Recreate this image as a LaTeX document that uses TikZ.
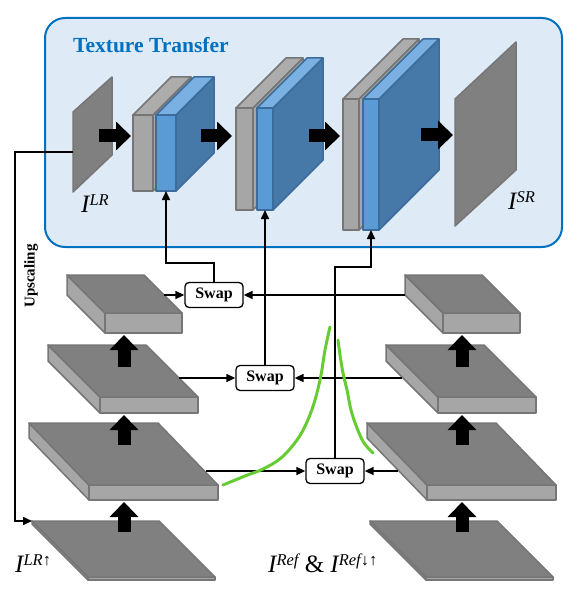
\documentclass[tikz,border=0pt]{standalone}
\usepackage{fontspec}
\setmainfont{Liberation Serif}
\usetikzlibrary{arrows.meta}

\definecolor{ttblue}{RGB}{0,112,192}
\definecolor{ttfill}{RGB}{222,234,246}
\definecolor{slabtop}{RGB}{128,128,128}
\definecolor{slabside}{RGB}{166,166,166}
\definecolor{slabedge}{RGB}{118,118,118}
\definecolor{graytop}{RGB}{172,172,172}
\definecolor{bluefront}{RGB}{91,155,213}
\definecolor{bluetop}{RGB}{122,176,226}
\definecolor{blueside}{RGB}{70,120,168}
\definecolor{blueedge}{RGB}{60,108,156}
\definecolor{scribble}{RGB}{102,204,51}

\newcommand{\imlabel}[1]{{\fontsize{25}{25}\selectfont\itshape I}\raisebox{7pt}{\fontsize{16.5}{16.5}\selectfont\itshape #1}}

\begin{document}
\begin{tikzpicture}[x=1pt,y=-1pt]
    \tikzset{conn/.style={line width=1.6pt, -{Triangle[length=9pt,width=8pt]}}};
    \tikzset{fatarrow/.style={line width=13pt, -{Triangle[length=15pt,width=28pt]}}};
    \tikzset{swapbox/.style={draw, line width=1.3pt, rounded corners=4pt, fill=white,
        minimum width=58pt, minimum height=25pt, inner sep=0pt,
        font=\fontsize{16}{16}\selectfont\bfseries}};
    \tikzset{plane/.style={fill=slabtop, draw=slabedge, line width=1.5pt, line join=round}};
    \tikzset{slab/.style={fill=slabside, draw=slabedge, line width=1.5pt, line join=round}};
    \tikzset{bluebox/.style={fill=bluefront, draw=blueedge, line width=1.5pt, line join=round}};
    \tikzset{lbl/.style={anchor=base west, inner sep=0pt}};

    \useasboundingbox (0,0) rectangle (568,604);

    % texture transfer panel
    \draw[ttblue, line width=2pt, fill=ttfill, rounded corners=20pt] (45,18) rectangle (562,247);
    \node[lbl, text=ttblue, font=\fontsize{21.5}{21.5}\selectfont\bfseries] (title) at (73,53) {Texture Transfer};

    \draw[plane] (73,112) -- (112,77) -- (112,155) -- (73,192) -- cycle;
    \draw[plane] (455,99) -- (516,42) -- (516,170) -- (455,226) -- cycle;
    \coordinate (lrin) at (73,152);

    \foreach \gx/\gw/\bx/\bw/\yt/\yb/\d/\n in {133/20/156/20/115/191/38/1,
                                               236/17/257/16/108/210/50/2,
                                               343/16/363/16/99/230/60/3}{
        \draw[slab] (\gx+\gw,\yt) -- ++(\d,-\d) -- ++(0,\yb-\yt) -- (\gx+\gw,\yb) -- cycle;
        \draw[slab, fill=graytop] (\gx,\yt) -- ++(\d,-\d) -- ++(\gw,0) -- (\gx+\gw,\yt) -- cycle;
        \draw[slab] (\gx,\yt) rectangle (\gx+\gw,\yb);
        \draw[bluebox, fill=blueside] (\bx+\bw,\yt) -- ++(\d,-\d) -- ++(0,\yb-\yt) -- (\bx+\bw,\yb) -- cycle;
        \draw[bluebox, fill=bluetop] (\bx,\yt) -- ++(\d,-\d) -- ++(\bw,0) -- (\bx+\bw,\yt) -- cycle;
        \draw[bluebox] (\bx,\yt) rectangle (\bx+\bw,\yb);
        \coordinate (blk\n) at (\bx+\bw/2,\yb);
    }

    \foreach \xa/\xb/\y in {99/131/136, 201/232/136, 309/340/136, 421/453/135}
        \draw[fatarrow] (\xa,\y) -- (\xb,\y);

    \node[lbl] (lblLR) at (81,212) {\imlabel{LR}};
    \node[lbl] (lblSR) at (508,209) {\imlabel{SR}};

    % feature stacks
    \foreach \sx in {0,338}{
        \tikzset{shift={(\sx,0)}}
        \foreach \x/\y/\w/\d/\e/\t in {67/275/77/38/38/20, 48/345/98/52/52/16,
                                        29/423/129/60/62/15, 32/521/127/56/56/3}{
            \draw[slab] (\x,\y) -- ++(\d,\e) -- ++(0,\t) -- ++(-\d,-\e) -- cycle;
            \draw[slab] (\x+\d,\y+\e) rectangle ++(\w,\t);
            \draw[plane] (\x,\y) -- ++(\w,0) -- ++(\d,\e) -- ++(-\w,0) -- cycle;
        }
        \foreach \ya/\yb in {367/335, 445/415, 532/502}
            \draw[fatarrow] (124,\ya) -- (124,\yb);
    }
    \coordinate (lrD) at (32,521);

    \node[lbl] (lblLRup) at (15,572) {\imlabel{LR↑}};
    \node[lbl, font=\fontsize{25}{25}\selectfont] (lblRef) at (268,572) {\imlabel{Ref} \& \imlabel{Ref↓↑}};

    % swap modules
    \node[swapbox] (swapA) at (214,295) {Swap};
    \node[swapbox] (swapB) at (265,378) {Swap};
    \node[swapbox] (swapC) at (335,471) {Swap};

    \coordinate (bendA) at (214,263);
    \coordinate (bendC) at (335,267);
    \draw[conn] (swapA.north) -- (bendA) -| (blk1);
    \draw[conn] (swapB.north) -- (blk2);
    \draw[conn] (swapC.north) -- (bendC) -| (blk3);

    \draw[conn] (164,295) -- (swapA.west);
    \draw[conn] (405,295) -- (swapA.east);
    \draw[conn] (179,378) -- (swapB.west);
    \draw[conn] (402,378) -- (swapB.east);
    \draw[conn] (206,471) -- (swapC.west);
    \draw[conn] (398,471) -- (swapC.east);

    \coordinate (upL) at (15,152);
    \draw[conn] (lrin) -- (upL) |- (lrD);
    \node[rotate=90, font=\fontsize{15}{15}\selectfont\bfseries] (upscale) at (31,276) {Upscaling};

    % hand drawn curve
    \draw[scribble, line width=3pt, line cap=round] plot[smooth, tension=0.6] coordinates
        {(223,485) (245,476) (263,469) (281,458) (297,440) (307,422) (315,400) (321,375) (325,350) (330,327)};
    \draw[scribble, line width=3pt, line cap=round] plot[smooth, tension=0.6] coordinates
        {(338,340) (340,355) (343,373) (347,390) (351,410) (357,428) (364,443) (373,453)};
\end{tikzpicture}
\end{document}
